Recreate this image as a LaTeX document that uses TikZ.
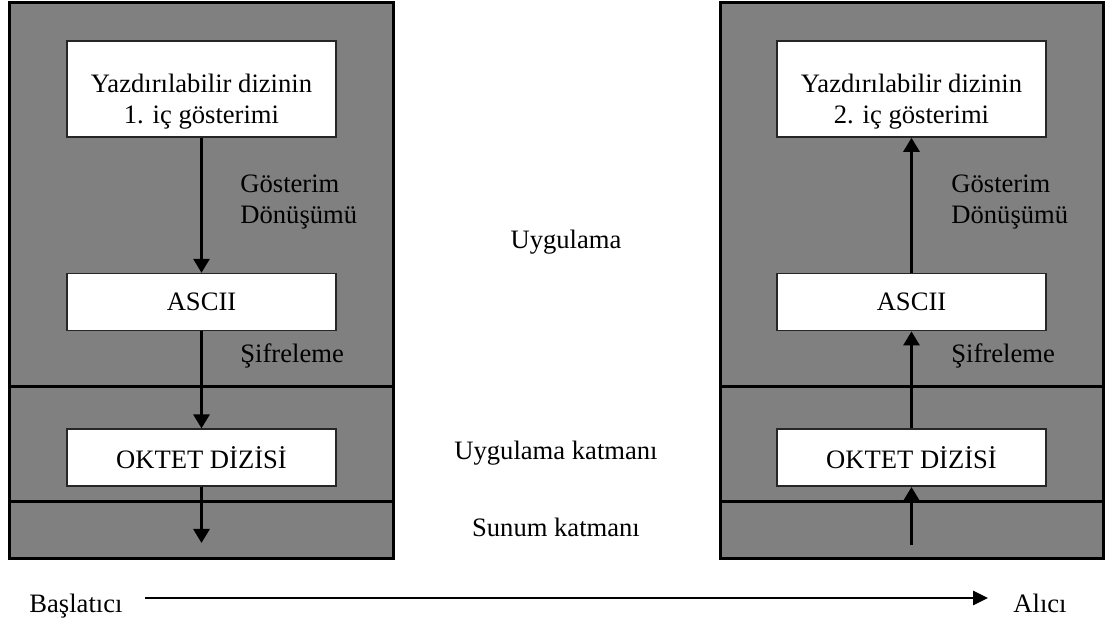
\documentclass[tikz,border=0pt]{standalone}
\usepackage{fontspec}
\setmainfont{Liberation Serif}
\usetikzlibrary{arrows.meta,positioning}

\begin{document}
\begin{tikzpicture}[
  x=0.5pt,y=-0.5pt,
  font=\fontsize{13.3pt}{15.6pt}\selectfont,
  >={Triangle[length=7pt,width=8pt]},
  panel/.style={draw=black,fill=black!50,line width=1.5pt},
  layer/.style={line width=1.5pt},
  box/.style={draw=black!85,fill=white,line width=0.8pt,minimum width=134.5pt,inner sep=0pt},
  flow/.style={->,line width=1.4pt},
  note/.style={inner sep=0pt},
]
\useasboundingbox (0,0) rectangle (1105,624);

% sender and receiver stacks
\draw[panel] (9,3) rectangle (393,559);
\draw[panel] (720,3) rectangle (1103,559);
\draw[layer] (9,387) -- (393,387);
\draw[layer] (9,502) -- (393,502);
\draw[layer] (720,387) -- (1103,387);
\draw[layer] (720,502) -- (1103,502);

\node[box,minimum height=48pt] (rep1) at (201.5,89) {};
\node[box,minimum height=28.5pt,below=67.5pt of rep1] (ascii1) {ASCII};
\node[box,minimum height=28.5pt,below=48.5pt of ascii1] (oktet1) {OKTET DİZİSİ};
\node[box,minimum height=48pt,right=219.7pt of rep1] (rep2) {};
\node[box,minimum height=28.5pt,below=67.5pt of rep2] (ascii2) {ASCII};
\node[box,minimum height=28.5pt,below=48.5pt of ascii2] (oktet2) {OKTET DİZİSİ};

\node[note,align=center,anchor=north] (rep1txt) at ([yshift=-16.5pt]rep1.north) {Yazdırılabilir dizinin\\1. iç gösterimi};
\node[note,align=center,anchor=north] (rep2txt) at ([yshift=-16.5pt]rep2.north) {Yazdırılabilir dizinin\\2. iç gösterimi};

\node[note,align=left,anchor=north west] (conv1) at (240,174) {Gösterim\\Dönüşümü};
\node[note,align=left,anchor=north west] (conv2) at (951,174) {Gösterim\\Dönüşümü};
\node[note,anchor=base west] (enc1) at (240,363) {Şifreleme};
\node[note,anchor=base west] (enc2) at (951,363) {Şifreleme};

% layer names between the stacks
\node[note,anchor=base] (app) at (566,249) {Uygulama};
\node[note,anchor=base] (applayer) at (556,460) {Uygulama katmanı};
\node[note,anchor=base] (preslayer) at (556,537) {Sunum katmanı};

\coordinate (out1) at ([yshift=-28pt]oktet1.south);
\coordinate (in2) at ([yshift=-29pt]oktet2.south);

\draw[flow] (rep1) -- (ascii1);
\draw[flow] (ascii1) -- (oktet1);
\draw[flow] (oktet1) -- (out1);
\draw[flow] (in2) -- (oktet2);
\draw[flow] (oktet2) -- (ascii2);
\draw[flow] (ascii2) -- (rep2);

\node[note,anchor=base west] (init) at (29,613) {Başlatıcı};
\node[note,anchor=base west] (recv) at (1013,613) {Alıcı};
\draw[flow,line width=1.3pt,>={Triangle[length=7.5pt,width=7pt]},shorten <=11pt,shorten >=12.5pt]
  ([yshift=7.5pt]init.base east) -- ([yshift=7.5pt]recv.base west);
\end{tikzpicture}
\end{document}
